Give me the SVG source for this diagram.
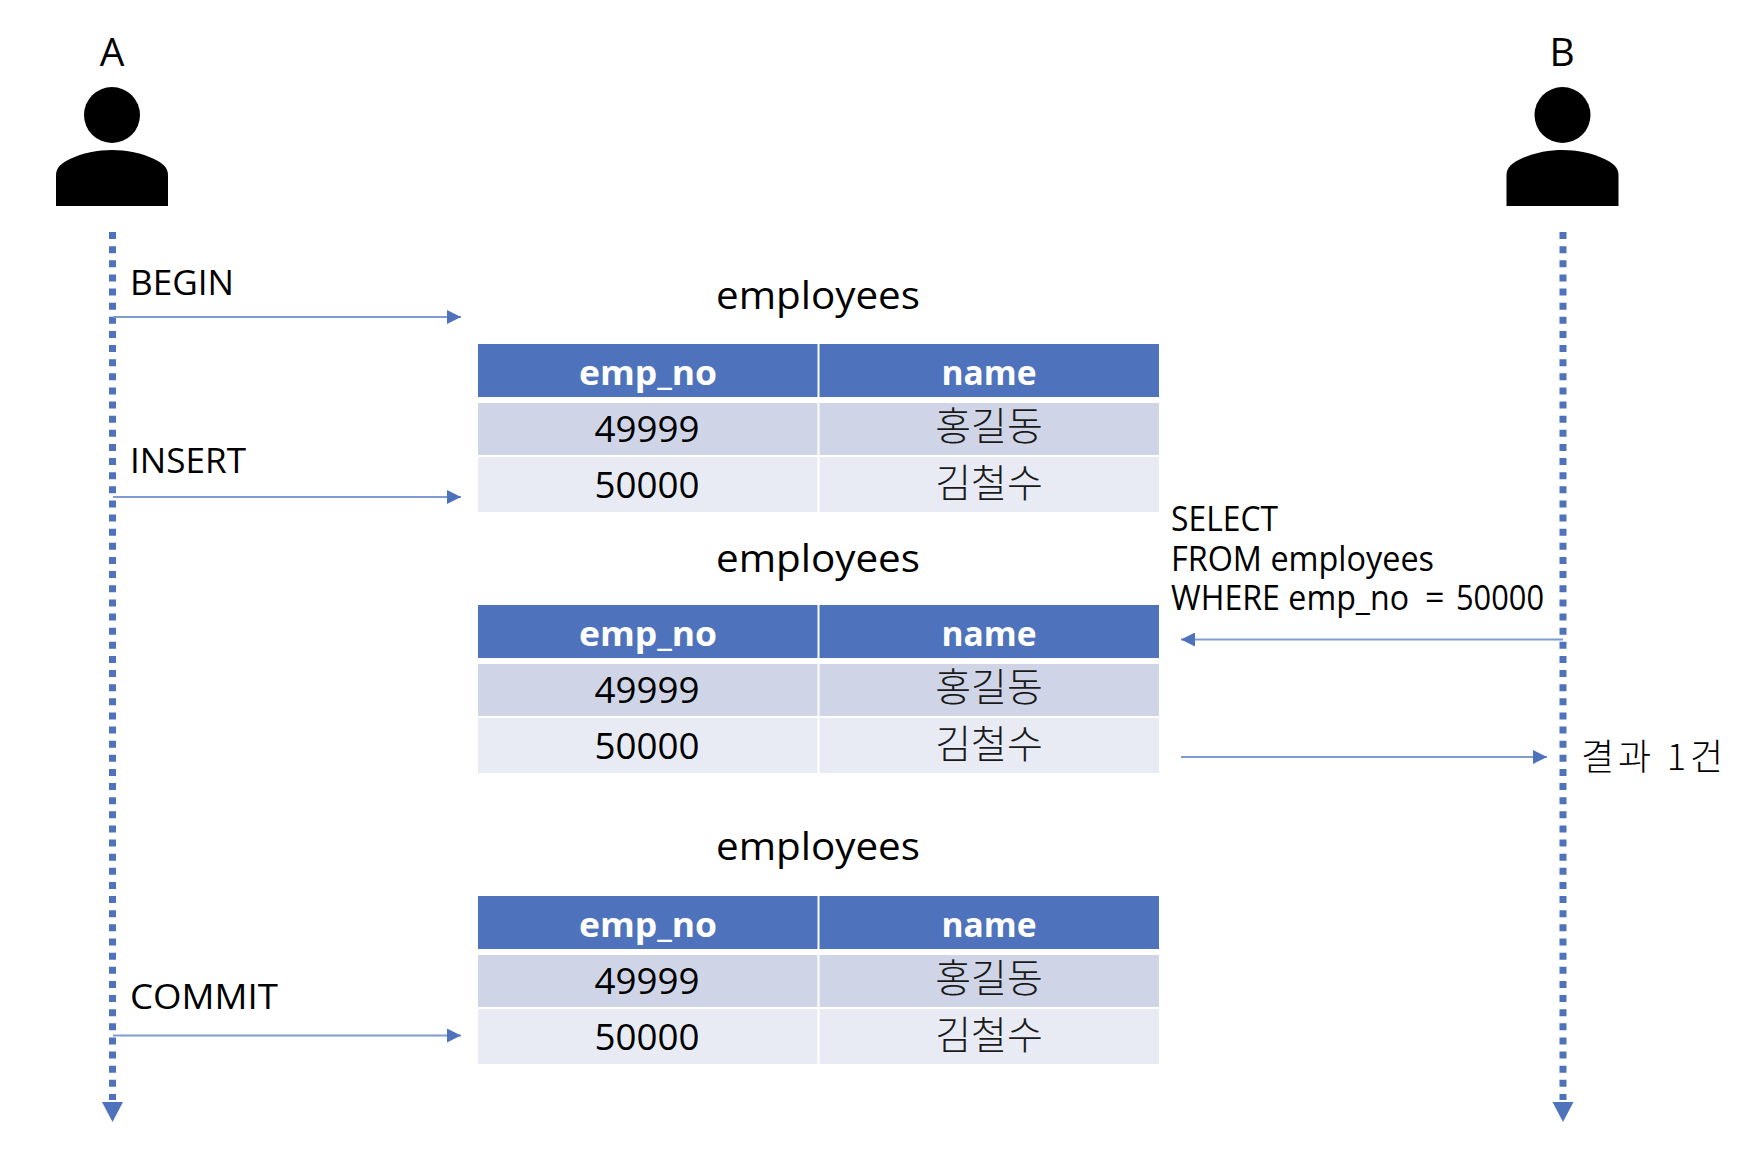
<svg xmlns="http://www.w3.org/2000/svg" width="1754" height="1156" viewBox="0 0 1754 1156">
<style>
text{font-family:"Open Sans","Noto Sans CJK KR",sans-serif;fill:#000}
.m{text-anchor:middle}
.ko{font-family:"Noto Sans CJK KR","Open Sans",sans-serif;font-size:39px;font-weight:300;text-anchor:middle;fill:#1a1a1a}
.h{font-size:34px;font-weight:700;fill:#fff;text-anchor:middle}
.c{font-size:36px;text-anchor:middle}
.t{font-size:39px;text-anchor:middle}
.l{font-size:34px}
.hd{fill:#4e73bc}.r1{fill:#cfd5e7}.r2{fill:#e8ebf4}
.life{stroke:#4e73bc;stroke-width:7;stroke-dasharray:7 7.13;fill:none}
.msg{stroke:#7f9bd2;stroke-width:2;fill:none;marker-end:url(#ah)}
.div{stroke:#fff;stroke-width:2}
</style>
<defs>
<marker id="ah" markerUnits="userSpaceOnUse" markerWidth="14" markerHeight="14" refX="14" refY="7" orient="auto"><path d="M0 0L14 7L0 14Z" fill="#4e73bc"/></marker>
<symbol id="person" overflow="visible"><circle cx="0" cy="0" r="28" fill="#000"/><path d="M-56 91V60C-56 52-50 48-42 44C-30 38-14 35 0 35C14 35 30 38 42 44C50 48 56 52 56 60V91Z" fill="#000"/></symbol>
<g id="tbl">
<rect class="hd" x="478" y="0" width="681" height="53"/>
<rect class="r1" x="478" y="59" width="681" height="52"/>
<rect class="r2" x="478" y="113" width="681" height="55"/>
<line class="div" x1="818.5" y1="0" x2="818.5" y2="168"/>
<text class="h" x="648" y="41" textLength="138" lengthAdjust="spacingAndGlyphs">emp_no</text>
<text class="h" x="989" y="41" textLength="95" lengthAdjust="spacingAndGlyphs">name</text>
<text class="c" x="647" y="98" textLength="105" lengthAdjust="spacingAndGlyphs">49999</text>
<text class="ko" x="989" y="96">홍길동</text>
<text class="c" x="647" y="154" textLength="105" lengthAdjust="spacingAndGlyphs">50000</text>
<text class="ko" x="989" y="153">김철수</text>
</g>
</defs>
<rect width="1754" height="1156" fill="#fff"/>
<g id="connectors">
<line class="life" x1="112.5" y1="232" x2="112.5" y2="1100"/>
<path d="M102 1102H123L112.5 1122Z" fill="#4e73bc"/>
<line class="life" x1="1563" y1="232" x2="1563" y2="1100"/>
<path d="M1552.5 1102H1573.500L1563 1122Z" fill="#4e73bc"/>
<line class="msg" x1="113" y1="317" x2="461" y2="317"/>
<line class="msg" x1="113" y1="497" x2="461" y2="497"/>
<line class="msg" x1="113" y1="1035.500" x2="461" y2="1035.500"/>
<line class="msg" x1="1563" y1="639.500" x2="1181" y2="639.500"/>
<line class="msg" x1="1181" y1="757" x2="1547" y2="757"/>
</g>
<g id="actor-a"><use href="#person" x="112" y="115"/><text class="m" x="112" y="66" font-size="39">A</text></g>
<g id="actor-b"><use href="#person" x="1562.500" y="115"/><text class="m" x="1562" y="66" font-size="39">B</text></g>
<g id="label-begin"><text class="l" x="130" y="294.500" textLength="104" lengthAdjust="spacingAndGlyphs">BEGIN</text></g>
<g id="label-insert"><text class="l" x="130" y="472.500" textLength="116" lengthAdjust="spacingAndGlyphs">INSERT</text></g>
<g id="label-commit"><text class="l" x="130" y="1009" textLength="148" lengthAdjust="spacingAndGlyphs">COMMIT</text></g>
<g id="table-1"><text class="t" x="818" y="309" textLength="204" lengthAdjust="spacingAndGlyphs">employees</text><use href="#tbl" y="344"/></g>
<g id="table-2"><text class="t" x="818" y="572" textLength="204" lengthAdjust="spacingAndGlyphs">employees</text><use href="#tbl" y="605"/></g>
<g id="table-3"><text class="t" x="818" y="860" textLength="204" lengthAdjust="spacingAndGlyphs">employees</text><use href="#tbl" y="896"/></g>
<g id="label-select">
<text class="l" x="1171" y="531" textLength="107" lengthAdjust="spacingAndGlyphs">SELECT</text>
<text class="l" x="1171" y="571" textLength="263" lengthAdjust="spacingAndGlyphs">FROM employees</text>
<text class="l" x="1171" y="610"><tspan textLength="238" lengthAdjust="spacingAndGlyphs">WHERE emp_no</tspan> <tspan x="1425">=</tspan> <tspan x="1456" textLength="88" lengthAdjust="spacingAndGlyphs">50000</tspan></text>
</g>
<g id="label-result"><text x="1581" y="770" font-size="36" style="font-family:'Noto Sans CJK KR',sans-serif;font-weight:300" fill="#1a1a1a" textLength="142">결과 1건</text></g>
</svg>
